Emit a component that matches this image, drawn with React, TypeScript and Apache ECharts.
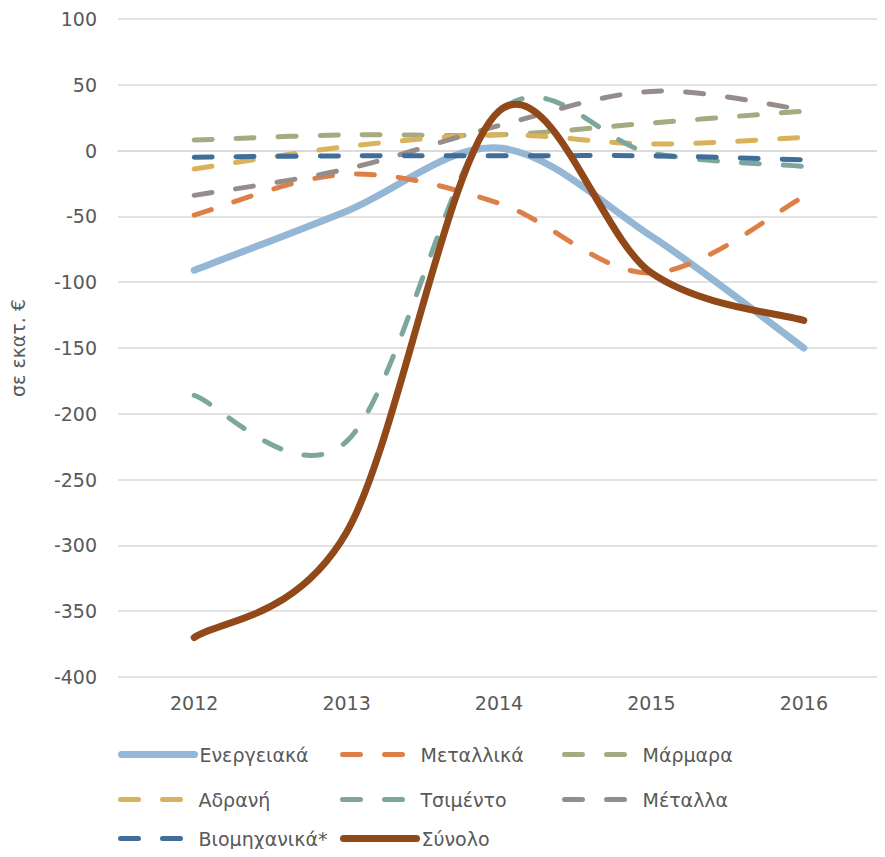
import React, { useEffect, useRef } from "react";
import * as echarts from "echarts";

const years = ["2012", "2013", "2014", "2015", "2016"];
const energeiaka = [-91, -46, 2, -65, -150];
const metallika = [-49, -18, -40, -93, -35];
const marmara = [8, 12, 12, 21, 30];
const adrani = [-14, 3, 12, 5, 10];
const tsimento = [-186, -221, 29, -2, -12];
const metalla = [-34, -14, 19, 45, 31];
const viomixanika = [-5, -4, -4, -4, -7];
const synolo = [-370, -290, 30, -93, -129];

const FONT = "'DejaVu Sans', sans-serif";
const FS = 19;
const TXT = "#595959";
const DASH = [18, 24];

type S = { name: string; data: number[]; color: string; dashed: boolean };
const seriesDefs: S[] = [
  { name: "Ενεργειακά", data: energeiaka, color: "#95B7D6", dashed: false },
  { name: "Μεταλλικά", data: metallika, color: "#DD8047", dashed: true },
  { name: "Μάρμαρα", data: marmara, color: "#A5AB81", dashed: true },
  { name: "Αδρανή", data: adrani, color: "#D8B25C", dashed: true },
  { name: "Τσιμέντο", data: tsimento, color: "#7BA79D", dashed: true },
  { name: "Μέταλλα", data: metalla, color: "#968C8C", dashed: true },
  { name: "Βιομηχανικά*", data: viomixanika, color: "#416D99", dashed: true },
  { name: "Σύνολο", data: synolo, color: "#92491A", dashed: false },
];

const legendPos = [
  [118, 745], [340, 745], [562, 745],
  [118, 790], [340, 790], [562, 790],
  [118, 829], [340, 829],
];

// Spline through the points (Catmull-Rom, 1/6 handles), as a spreadsheet draws a smoothed line
function splinePath(pts: number[][]): string {
  const n = pts.length;
  let d = `M${pts[0][0]},${pts[0][1]}`;
  for (let i = 0; i < n - 1; i++) {
    const p0 = pts[Math.max(i - 1, 0)];
    const p1 = pts[i];
    const p2 = pts[i + 1];
    const p3 = pts[Math.min(i + 2, n - 1)];
    const c1x = p1[0] + (p2[0] - p0[0]) / 6;
    const c1y = p1[1] + (p2[1] - p0[1]) / 6;
    const c2x = p2[0] - (p3[0] - p1[0]) / 6;
    const c2y = p2[1] - (p3[1] - p1[1]) / 6;
    d += ` C${c1x},${c1y} ${c2x},${c2y} ${p2[0]},${p2[1]}`;
  }
  return d;
}

export default function App() {
  const ref = useRef<HTMLDivElement>(null);
  useEffect(() => {
    if (!ref.current) return;
    const chart = echarts.init(ref.current, null, { renderer: "svg" });

    const legendProxies = seriesDefs.map((s) => ({
      name: s.name,
      type: "line",
      data: s.data,
      symbol: "none",
      silent: true,
      color: s.color,
      lineStyle: { color: s.color, opacity: 0 },
    }));

    const curves = seriesDefs.map((s) => ({
      name: s.name,
      type: "custom",
      data: s.data.map((v, i) => [i, v]),
      encode: { x: 0, y: 1 },
      silent: true,
      renderItem: (params: any, api: any) => {
        if (params.dataIndex !== 0) return null;
        const pts = s.data.map((v, i) => api.coord([i, v]));
        return {
          type: "path",
          shape: { pathData: splinePath(pts) },
          style: {
            fill: "none",
            stroke: s.color,
            lineWidth: s.dashed ? 5 : 7,
            lineDash: s.dashed ? DASH : null,
            lineCap: "round",
            lineJoin: "round",
          },
        };
      },
    }));

    chart.setOption({
      animation: false,
      textStyle: { fontFamily: FONT },
      grid: { left: 113, right: 5, top: 19, bottom: 180, containLabel: false },
      legend: seriesDefs.map((s, i) => ({
        data: [s.name],
        left: legendPos[i][0],
        top: legendPos[i][1],
        itemWidth: 73,
        itemHeight: 14,
        padding: 0,
        selectedMode: false,
        itemStyle: { opacity: 0 },
        lineStyle: {
          color: s.color,
          opacity: 1,
          width: s.dashed ? 5 : 7,
          type: s.dashed ? DASH : "solid",
          cap: "round",
        },
        textStyle: { fontFamily: FONT, fontSize: FS, color: TXT },
      })),
      xAxis: {
        type: "category",
        data: years,
        boundaryGap: true,
        axisLine: { lineStyle: { color: "#D9D9D9", width: 1.5 } },
        axisTick: { show: false },
        axisLabel: { fontFamily: FONT, fontSize: FS, color: TXT, margin: 16 },
      },
      yAxis: {
        type: "value",
        min: -400,
        max: 100,
        interval: 50,
        name: "σε εκατ. €",
        nameLocation: "middle",
        nameGap: 91,
        nameTextStyle: { fontFamily: FONT, fontSize: FS, color: TXT },
        axisLine: { show: false },
        axisTick: { show: false },
        axisLabel: { fontFamily: FONT, fontSize: FS, color: TXT, margin: 21 },
        splitLine: { lineStyle: { color: "#D9D9D9", width: 1.5 } },
      },
      series: [...legendProxies, ...curves],
    });
    return () => chart.dispose();
  }, []);
  return <div ref={ref} style={{ width: 885, height: 857, margin: -8 }} />;
}
